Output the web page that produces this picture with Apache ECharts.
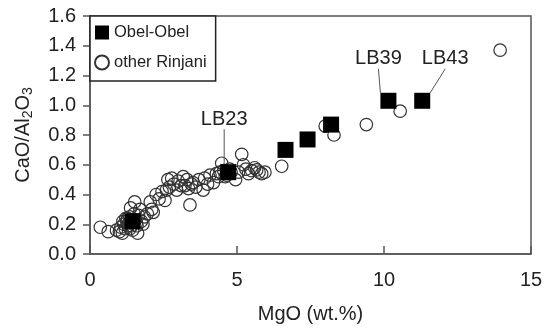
<!DOCTYPE html>
<html>
<head>
<meta charset="utf-8">
<script src="https://cdn.jsdelivr.net/npm/echarts@6/dist/echarts.min.js"></script>
<style>
  html, body { margin: 0; padding: 0; background: #fff; }
  #main { width: 555px; height: 334px; }
</style>
</head>
<body>
<div id="main"></div>
<script>
// Obel-Obel samples (filled squares)
var obelMgO = [1.45, 4.7, 6.65, 7.4, 8.2, 10.15, 11.3];
var obelRatio = [0.22, 0.55, 0.70, 0.77, 0.87, 1.03, 1.03];
var obelNames = ['', 'LB23', '', '', '', 'LB39', 'LB43'];

// other Rinjani samples (open circles)
var rinjaniMgO = [
  0.35, 0.62, 0.9, 1.0, 1.05, 1.1, 1.15, 1.2, 1.25, 1.3,
  1.35, 1.38, 1.4, 1.45, 1.5, 1.52, 1.55, 1.6, 1.62, 1.65,
  1.7, 1.75, 1.8, 1.85, 1.95, 2.05, 2.1, 2.15, 2.25, 2.35,
  2.45, 2.55, 2.6, 2.65, 2.7, 2.78, 2.85, 2.95, 3.0, 3.1,
  3.17, 3.23, 3.3, 3.35, 3.4, 3.5, 3.6, 3.7, 3.85, 3.9,
  4.0, 4.08, 4.2, 4.3, 4.37, 4.48, 4.55, 4.65, 4.8, 4.95,
  5.05, 5.16, 5.22, 5.3, 5.39, 5.5, 5.6, 5.67, 5.75, 5.84,
  5.95, 6.52, 8.0, 8.3, 9.4, 10.55, 13.95,
  1.28, 1.33, 1.42, 1.48, 1.58, 1.36, 1.22, 1.12, 4.42, 4.6, 4.75, 3.45
];
var rinjaniRatio = [
  0.18, 0.15, 0.16, 0.15, 0.18, 0.14, 0.20, 0.17, 0.22, 0.19,
  0.25, 0.31, 0.21, 0.16, 0.27, 0.35, 0.23, 0.19, 0.14, 0.26,
  0.30, 0.22, 0.20, 0.25, 0.27, 0.35, 0.30, 0.28, 0.40, 0.37,
  0.42, 0.36, 0.43, 0.50, 0.45, 0.51, 0.47, 0.43, 0.49, 0.46,
  0.52, 0.46, 0.50, 0.44, 0.33, 0.48, 0.45, 0.50, 0.43, 0.51,
  0.47, 0.53, 0.48, 0.54, 0.52, 0.61, 0.56, 0.53, 0.55, 0.50,
  0.55, 0.67, 0.60, 0.57, 0.54, 0.56, 0.58, 0.565, 0.55, 0.54,
  0.55, 0.59, 0.86, 0.80, 0.87, 0.96, 1.37,
  0.24, 0.21, 0.19, 0.23, 0.21, 0.17, 0.24, 0.22, 0.55, 0.52, 0.57, 0.47
];

// where the sample labels sit relative to their default spot
var labelShift = { 1: [-4, -30], 5: [-10, -19], 6: [23, -19] };

var font = 'Liberation Sans, Arial, Helvetica, sans-serif';
var chart = echarts.init(document.getElementById('main'));

var obelData = obelMgO.map(function (x, i) {
  return { value: [x, obelRatio[i]], name: obelNames[i], label: { show: obelNames[i] !== '' } };
});
var rinjaniData = rinjaniMgO.map(function (x, i) {
  return [x, rinjaniRatio[i]];
});

var option = {
  animation: false,
  grid: {
    left: 90, right: 24, top: 16, bottom: 80,
    show: true, borderColor: '#555', borderWidth: 1.5
  },
  legend: {
    orient: 'vertical',
    left: 90, top: 16,
    padding: [8, 9, 10, 4],
    itemWidth: 14, itemHeight: 14, itemGap: 13,
    borderColor: '#222', borderWidth: 1.5,
    backgroundColor: '#fff',
    textStyle: { fontFamily: font, fontSize: 16.5, color: '#222' },
    data: [
      { name: 'Obel-Obel', icon: 'rect' },
      { name: 'other Rinjani', icon: 'circle' }
    ]
  },
  xAxis: {
    type: 'value', min: 0, max: 15, interval: 5,
    name: 'MgO (wt.%)', nameLocation: 'middle', nameGap: 50,
    nameTextStyle: { fontFamily: font, fontSize: 20, color: '#222' },
    axisLine: { lineStyle: { color: '#555', width: 1.5 } },
    axisTick: { inside: true, length: 8, lineStyle: { color: '#555', width: 1.5 } },
    axisLabel: { margin: 16, fontFamily: font, fontSize: 20, color: '#222' },
    splitLine: { show: false }
  },
  yAxis: {
    type: 'value', min: 0, max: 1.6, interval: 0.2,
    name: '{a|CaO/Al}{s|2}{a|O}{s|3}', nameLocation: 'middle', nameGap: 55,
    nameTextStyle: {
      rich: {
        a: { fontFamily: font, fontSize: 20, color: '#222' },
        s: { fontFamily: font, fontSize: 14, color: '#222', padding: [10, 0, 0, 0] }
      }
    },
    axisLine: { lineStyle: { color: '#555', width: 1.5 } },
    axisTick: { length: 7, lineStyle: { color: '#555', width: 1.5 } },
    axisLabel: {
      margin: 14, fontFamily: font, fontSize: 20, color: '#222',
      formatter: function (v) { return v.toFixed(1); }
    },
    splitLine: { show: false }
  },
  series: [
    {
      name: 'other Rinjani',
      type: 'scatter',
      symbol: 'circle',
      symbolSize: 12.5,
      itemStyle: { color: 'rgba(255,255,255,0)', borderColor: '#333', borderWidth: 1.2, opacity: 1 },
      data: rinjaniData,
      z: 2
    },
    {
      name: 'Obel-Obel',
      type: 'scatter',
      symbol: 'rect',
      symbolSize: 16,
      itemStyle: { color: '#000', opacity: 1 },
      label: {
        position: 'top', distance: 5,
        fontFamily: font, fontSize: 20, color: '#222',
        formatter: function (p) { return p.name; }
      },
      labelLine: { show: true, lineStyle: { color: '#555', width: 1, opacity: 1 } },
      labelLayout: function (p) {
        var s = labelShift[p.dataIndex];
        return s ? { dx: s[0], dy: s[1] } : {};
      },
      data: obelData,
      z: 3
    }
  ]
};

chart.setOption(option);
</script>
</body>
</html>
